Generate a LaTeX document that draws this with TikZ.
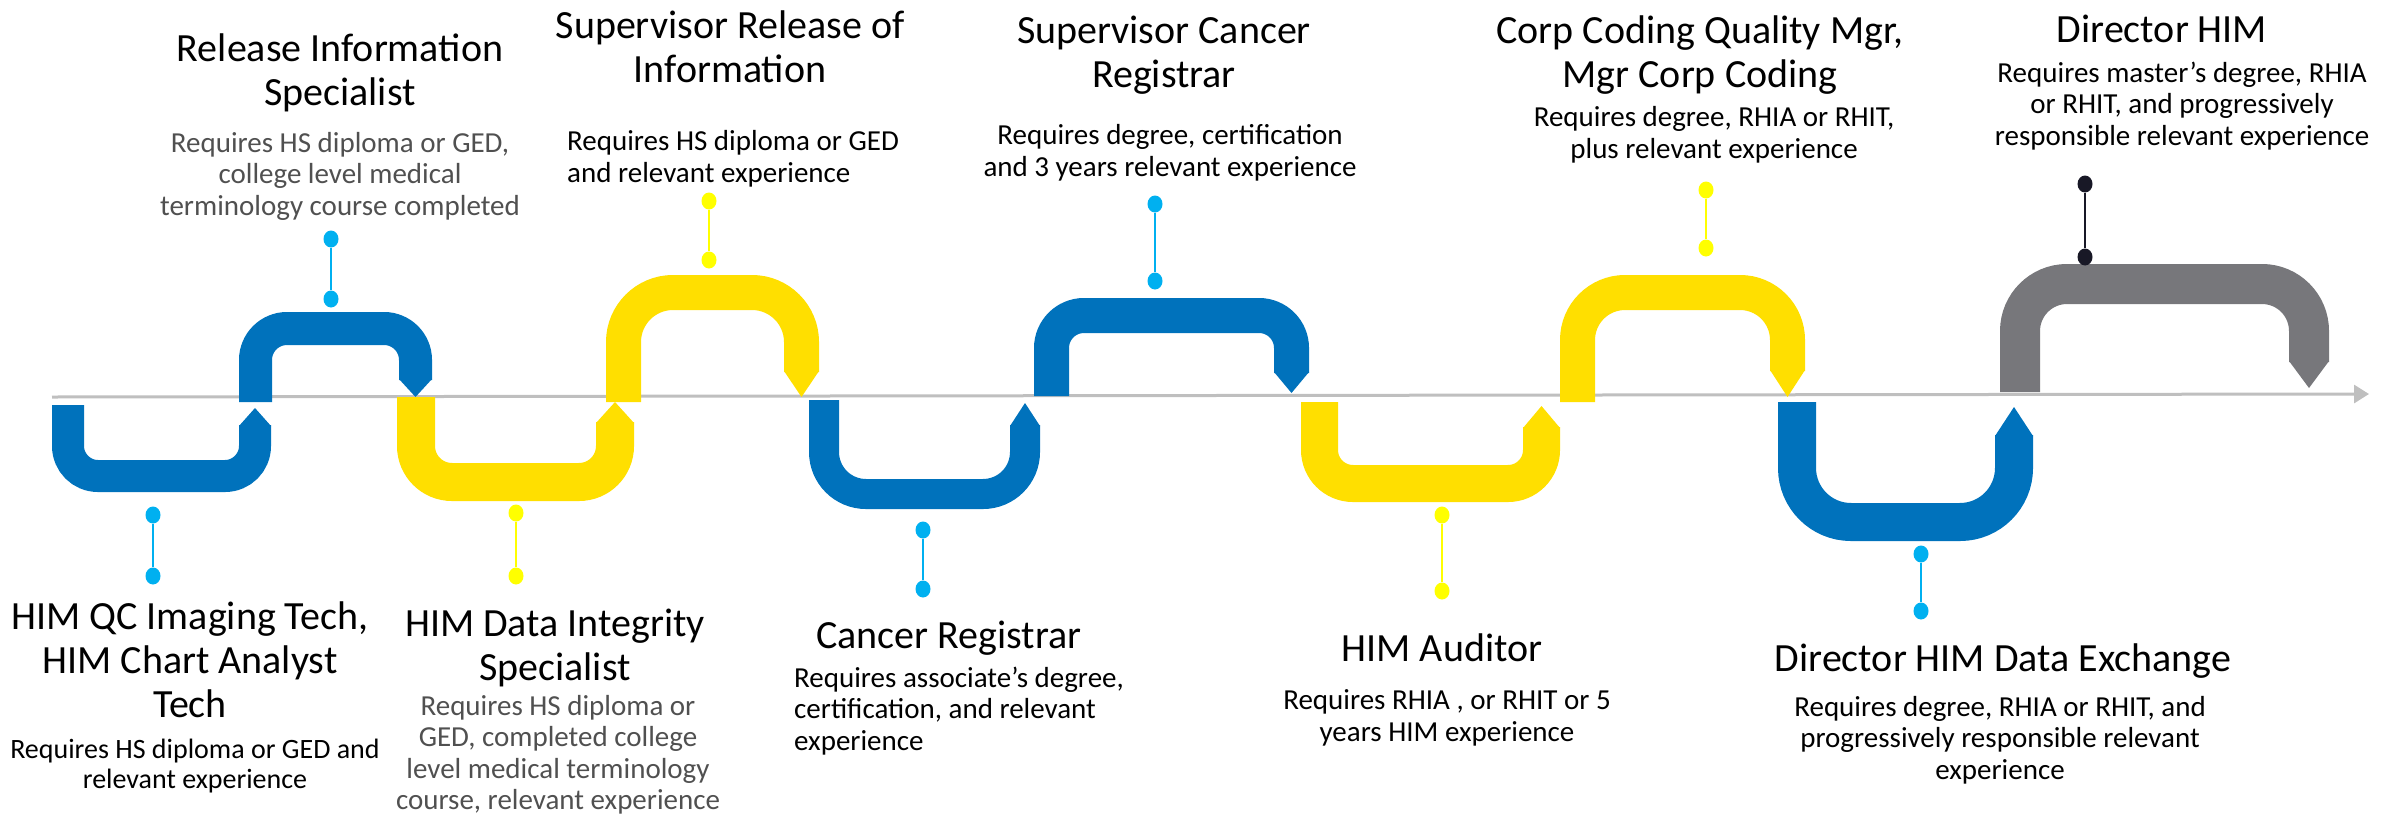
\documentclass[tikz,border=0pt]{standalone}
\usepackage{fontspec}
\setmainfont{Carlito}
\usetikzlibrary{arrows.meta,shapes.geometric}
\definecolor{pipeblue}{RGB}{0,114,188}
\definecolor{pipeyellow}{RGB}{255,223,0}
\definecolor{pipegray}{RGB}{119,119,123}
\definecolor{pinblue}{RGB}{0,176,240}
\definecolor{pinyellow}{RGB}{255,255,0}
\definecolor{pindark}{RGB}{24,24,38}
\definecolor{axisgray}{RGB}{191,191,191}
\definecolor{descgray}{RGB}{80,80,80}
\tikzset{x=1pt, y=-1pt, % pixel units, y runs downwards
title/.style={align=center, inner sep=0pt, font=\fontsize{40}{44}\selectfont}, % job titles
desc/.style={align=center, inner sep=0pt, font=\fontsize{29}{31.5}\selectfont}, % requirements
pindot/.style={ellipse, fill=#1, inner sep=0pt, minimum width=15pt, minimum height=17pt}, % ends of a pin
pinline/.style={draw=#1, line width=2pt}, % stem of a pin
}
% #1 colour, #2 #3 outer x of the arms, #4 width, #5 start y, #6 outer y of the bend,
% #7 outer radius, #8 y of the arrow base, #9 y of the tip
\newcommand{\pipe}[9]{%
\pgfmathsetmacro{\hw}{#4/2}
\pgfmathsetmacro{\rc}{#7-#4/2}
\pgfmathsetmacro{\yc}{#6-sign(#6-#5)*\hw}
\pgfmathsetmacro{\yb}{#8+sign(#8-#9)}
\draw[#1, line width=#4pt, rounded corners=\rc pt] (#2+\hw,#5) -- (#2+\hw,\yc) -- (#3-\hw,\yc) -- (#3-\hw,#8);
\fill[#1] (#3-#4,\yb) -- (#3,\yb) -- (#3-\hw,#9) -- cycle;
}

\begin{document}
\begin{tikzpicture}
\useasboundingbox (0,0) rectangle (2392,817);
\coordinate (start) at (52,397);
\coordinate (end) at (2369,394);
\draw[axisgray, line width=3pt, -{Triangle[length=15pt,width=18pt]}] (start) -- (end);

\pipe{pipeblue}{52}{271}{32}{405}{492}{46}{425}{408}
\pipe{pipeblue}{239}{432}{33}{402}{312}{48}{380}{397}
\pipe{pipeyellow}{397}{634}{38}{397}{501}{55}{422}{402}
\pipe{pipeyellow}{606}{819}{35}{402}{275}{67}{372}{397}
\pipe{pipeblue}{809}{1040}{30}{400}{509}{57}{425}{403}
\pipe{pipeblue}{1034}{1309}{35}{396}{298}{50}{373}{393}
\pipe{pipeyellow}{1301}{1560}{37}{402}{502}{52}{427}{406}
\pipe{pipeyellow}{1560}{1805}{35}{402}{275}{65}{371}{397}
\pipe{pipeblue}{1778}{2033}{38}{402}{541}{73}{435}{407}
\pipe{pipegray}{2000}{2329}{40}{392}{264}{67}{362}{388}

\node[pindot=pinblue] (qcA) at (153,515) {};
\node[pindot=pinblue] (qcB) at (153,576) {};
\node[pindot=pinblue] (relA) at (331,239) {};
\node[pindot=pinblue] (relB) at (331,299) {};
\node[pindot=pinyellow] (dataA) at (516,513) {};
\node[pindot=pinyellow] (dataB) at (516,576) {};
\node[pindot=pinyellow] (suprelA) at (709,201) {};
\node[pindot=pinyellow] (suprelB) at (709,260) {};
\node[pindot=pinblue] (canA) at (923,530) {};
\node[pindot=pinblue] (canB) at (923,589) {};
\node[pindot=pinblue] (supcanA) at (1155,204) {};
\node[pindot=pinblue] (supcanB) at (1155,281) {};
\node[pindot=pinyellow] (audA) at (1442,515) {};
\node[pindot=pinyellow] (audB) at (1442,591) {};
\node[pindot=pinyellow] (corpA) at (1706,190) {};
\node[pindot=pinyellow] (corpB) at (1706,248) {};
\node[pindot=pinblue] (exchA) at (1921,554) {};
\node[pindot=pinblue] (exchB) at (1921,611) {};
\node[pindot=pindark] (dirA) at (2085,184) {};
\node[pindot=pindark] (dirB) at (2085,257) {};
\draw[pinline=pinblue] (qcA) -- (qcB);
\draw[pinline=pinblue] (relA) -- (relB);
\draw[pinline=pinyellow] (dataA) -- (dataB);
\draw[pinline=pinyellow] (suprelA) -- (suprelB);
\draw[pinline=pinblue] (canA) -- (canB);
\draw[pinline=pinblue] (supcanA) -- (supcanB);
\draw[pinline=pinyellow] (audA) -- (audB);
\draw[pinline=pinyellow] (corpA) -- (corpB);
\draw[pinline=pinblue] (exchA) -- (exchB);
\draw[pinline=pindark] (dirA) -- (dirB);

\node[title] (qcT) at (190,660) {HIM QC Imaging Tech,\\HIM Chart Analyst\\Tech};
\node[desc, font=\fontsize{28}{30}\selectfont] (qcD) at (195,766) {Requires HS diploma or GED and\\relevant experience};
\node[title] (relT) at (340,73) {Release Information\\Specialist};
\node[desc, text=descgray] (relD) at (340,176) {Requires HS diploma or GED,\\college level medical\\terminology course completed};
\node[title] (dataT) at (555,648) {HIM Data Integrity\\Specialist};
\node[desc, text=descgray] (dataD) at (558,755) {Requires HS diploma or\\GED, completed college\\level medical terminology\\course, relevant experience};
\node[title] (suprelT) at (730,47) {Supervisor Release of\\Information};
\node[desc, align=left, anchor=west] (suprelD) at (567,159) {Requires HS diploma or GED\\and relevant experience};
\node[title] (canT) at (949,638) {Cancer Registrar};
\node[desc, align=left, anchor=west] (canD) at (794,711) {Requires associate's degree,\\certification, and relevant\\experience};
\node[title] (supcanT) at (1164,55) {Supervisor Cancer\\Registrar};
\node[desc] (supcanD) at (1170,153) {Requires degree, certification\\and 3 years relevant experience};
\node[title] (audT) at (1442,648) {HIM Auditor};
\node[desc] (audD) at (1447,718) {Requires RHIA , or RHIT or 5\\years HIM experience};
\node[title] (corpT) at (1700,55) {Corp Coding Quality Mgr,\\Mgr Corp Coding};
\node[desc] (corpD) at (1714,135) {Requires degree, RHIA or RHIT,\\plus relevant experience};
\node[title] (exchT) at (2003,661) {Director HIM Data Exchange};
\node[desc] (exchD) at (2000,740) {Requires degree, RHIA or RHIT, and\\progressively responsible relevant\\experience};
\node[title] (dirT) at (2162,29) {Director HIM};
\node[desc] (dirD) at (2182,106) {Requires master's degree, RHIA\\or RHIT, and progressively\\responsible relevant experience};
\end{tikzpicture}
\end{document}
